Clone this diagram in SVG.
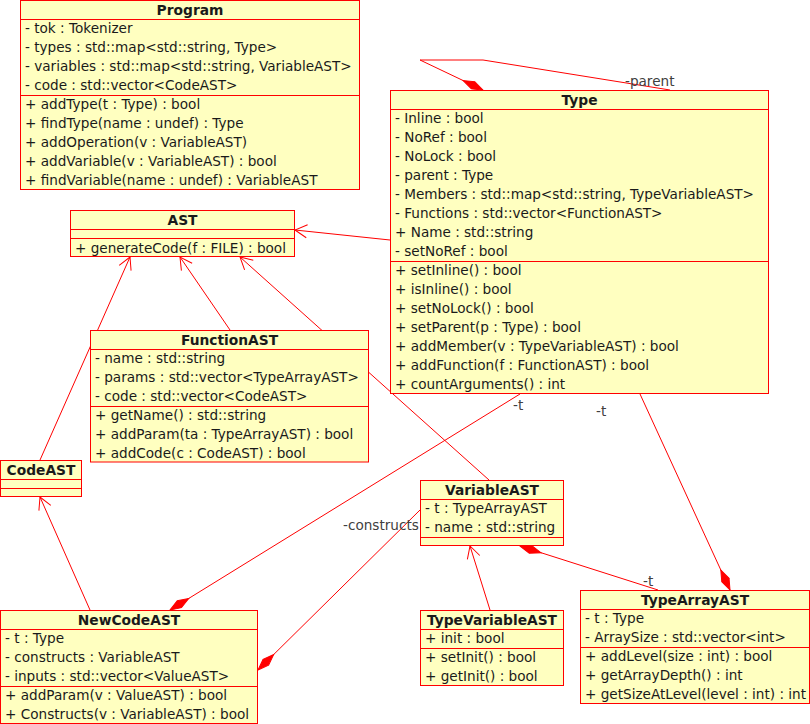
<svg xmlns="http://www.w3.org/2000/svg" width="810" height="724" viewBox="0 0 810 724">
<style>
.box{fill:#ffffc0;stroke:#ff0000;stroke-width:1}
.sep{stroke:#ff0000;stroke-width:1;fill:none}
.t{font-family:"DejaVu Sans","Liberation Sans",sans-serif;font-size:13.6px;fill:#1a1a1a}
.h{font-family:"DejaVu Sans","Liberation Sans",sans-serif;font-size:13.8px;font-weight:bold;fill:#1a1a1a;text-anchor:middle}
.lbl{font-family:"DejaVu Sans","Liberation Sans",sans-serif;font-size:13.6px;fill:#404040}
.c{stroke:#ff0000;stroke-width:1;fill:none}
.gen{marker-end:url(#open)}
.comp{marker-end:url(#dia)}
</style>
<defs>
<marker id="open" markerUnits="userSpaceOnUse" orient="auto" refX="0" refY="0" markerWidth="30" markerHeight="30" overflow="visible">
<path d="M-12,-6.5 L0,0 L-12,6.5" fill="none" stroke="#ff0000" stroke-width="1"/>
</marker>
<marker id="dia" markerUnits="userSpaceOnUse" orient="auto" refX="0" refY="0" markerWidth="30" markerHeight="30" overflow="visible">
<path d="M0,0 L-11,-4 L-22,0 L-11,4 Z" fill="#ff0000" stroke="#ff0000" stroke-width="1"/>
</marker>
</defs>

<g id="connectors">
<path class="c comp" d="M670,90 L483,60 L420,60 L483,90"/>
<line class="c gen" x1="390" y1="240" x2="295" y2="230"/>
<line class="c gen" x1="40" y1="460" x2="130" y2="257"/>
<line class="c gen" x1="230" y1="330" x2="180" y2="257"/>
<line class="c gen" x1="489" y1="480" x2="240" y2="257"/>
<line class="c gen" x1="90" y1="610" x2="40" y2="497"/>
<line class="c gen" x1="490" y1="610" x2="470" y2="546"/>
<line class="c comp" x1="520" y1="394" x2="170" y2="610"/>
<line class="c comp" x1="420" y1="510" x2="258" y2="670"/>
<line class="c comp" x1="640" y1="394" x2="730" y2="590"/>
<line class="c comp" x1="658" y1="590" x2="520" y2="546"/>
<text class="lbl" x="625" y="86">-parent</text>
<text class="lbl" x="513" y="410">-t</text>
<text class="lbl" x="596" y="416">-t</text>
<text class="lbl" x="643" y="586">-t</text>
<text class="lbl" x="343" y="530">-constructs</text>
</g>

<g id="Program">
<rect class="box" x="20.5" y="0.5" width="339" height="189"/>
<line class="sep" x1="20.5" y1="19.5" x2="359.5" y2="19.5"/>
<line class="sep" x1="20.5" y1="95.5" x2="359.5" y2="95.5"/>
<text class="h" x="190" y="14.5">Program</text>
<text class="t" x="25" y="33">- tok : Tokenizer</text>
<text class="t" x="25" y="52">- types : std::map&lt;std::string, Type&gt;</text>
<text class="t" x="25" y="71">- variables : std::map&lt;std::string, VariableAST&gt;</text>
<text class="t" x="25" y="90">- code : std::vector&lt;CodeAST&gt;</text>
<text class="t" x="25" y="109">+ addType(t : Type) : bool</text>
<text class="t" x="25" y="128">+ findType(name : undef) : Type</text>
<text class="t" x="25" y="147">+ addOperation(v : VariableAST)</text>
<text class="t" x="25" y="166">+ addVariable(v : VariableAST) : bool</text>
<text class="t" x="25" y="185">+ findVariable(name : undef) : VariableAST</text>
</g>

<g id="Type">
<rect class="box" x="390.5" y="90.5" width="378" height="303"/>
<line class="sep" x1="390.5" y1="109.5" x2="768.5" y2="109.5"/>
<line class="sep" x1="390.5" y1="261.5" x2="768.5" y2="261.5"/>
<text class="h" x="579.5" y="104.5">Type</text>
<text class="t" x="395" y="123">- Inline : bool</text>
<text class="t" x="395" y="142">- NoRef : bool</text>
<text class="t" x="395" y="161">- NoLock : bool</text>
<text class="t" x="395" y="180">- parent : Type</text>
<text class="t" x="395" y="199">- Members : std::map&lt;std::string, TypeVariableAST&gt;</text>
<text class="t" x="395" y="218">- Functions : std::vector&lt;FunctionAST&gt;</text>
<text class="t" x="395" y="237">+ Name : std::string</text>
<text class="t" x="395" y="256">- setNoRef : bool</text>
<text class="t" x="395" y="275">+ setInline() : bool</text>
<text class="t" x="395" y="294">+ isInline() : bool</text>
<text class="t" x="395" y="313">+ setNoLock() : bool</text>
<text class="t" x="395" y="332">+ setParent(p : Type) : bool</text>
<text class="t" x="395" y="351">+ addMember(v : TypeVariableAST) : bool</text>
<text class="t" x="395" y="370">+ addFunction(f : FunctionAST) : bool</text>
<text class="t" x="395" y="389">+ countArguments() : int</text>
</g>

<g id="AST">
<rect class="box" x="70.5" y="210.5" width="224" height="46"/>
<line class="sep" x1="70.5" y1="229.5" x2="294.5" y2="229.5"/>
<line class="sep" x1="70.5" y1="238.5" x2="294.5" y2="238.5"/>
<text class="h" x="182.5" y="225">AST</text>
<text class="t" x="75" y="252.5">+ generateCode(f : FILE) : bool</text>
</g>

<g id="FunctionAST">
<rect class="box" x="90.5" y="330.5" width="278" height="131.5"/>
<line class="sep" x1="90.5" y1="349.5" x2="368.5" y2="349.5"/>
<line class="sep" x1="90.5" y1="406.5" x2="368.5" y2="406.5"/>
<text class="h" x="229.5" y="345">FunctionAST</text>
<text class="t" x="95" y="363">- name : std::string</text>
<text class="t" x="95" y="382">- params : std::vector&lt;TypeArrayAST&gt;</text>
<text class="t" x="95" y="401">- code : std::vector&lt;CodeAST&gt;</text>
<text class="t" x="95" y="420">+ getName() : std::string</text>
<text class="t" x="95" y="439">+ addParam(ta : TypeArrayAST) : bool</text>
<text class="t" x="95" y="458">+ addCode(c : CodeAST) : bool</text>
</g>

<g id="CodeAST">
<rect class="box" x="0.5" y="460.5" width="81" height="36"/>
<line class="sep" x1="0.5" y1="479.5" x2="81.5" y2="479.5"/>
<line class="sep" x1="0.5" y1="488.5" x2="81.5" y2="488.5"/>
<text class="h" x="41" y="475">CodeAST</text>
</g>

<g id="NewCodeAST">
<rect class="box" x="0.5" y="610.5" width="257" height="113"/>
<line class="sep" x1="0.5" y1="629.5" x2="257.5" y2="629.5"/>
<line class="sep" x1="0.5" y1="686.5" x2="257.5" y2="686.5"/>
<text class="h" x="129" y="625">NewCodeAST</text>
<text class="t" x="5" y="643">- t : Type</text>
<text class="t" x="5" y="662">- constructs : VariableAST</text>
<text class="t" x="5" y="681">- inputs : std::vector&lt;ValueAST&gt;</text>
<text class="t" x="5" y="700">+ addParam(v : ValueAST) : bool</text>
<text class="t" x="5" y="719">+ Constructs(v : VariableAST) : bool</text>
</g>

<g id="VariableAST">
<rect class="box" x="420.5" y="480.5" width="143" height="65"/>
<line class="sep" x1="420.5" y1="499.5" x2="563.5" y2="499.5"/>
<line class="sep" x1="420.5" y1="537.5" x2="563.5" y2="537.5"/>
<text class="h" x="492" y="495">VariableAST</text>
<text class="t" x="425" y="513">- t : TypeArrayAST</text>
<text class="t" x="425" y="532">- name : std::string</text>
</g>

<g id="TypeVariableAST">
<rect class="box" x="420.5" y="610.5" width="143" height="75"/>
<line class="sep" x1="420.5" y1="629.5" x2="563.5" y2="629.5"/>
<line class="sep" x1="420.5" y1="648.5" x2="563.5" y2="648.5"/>
<text class="h" x="492" y="625">TypeVariableAST</text>
<text class="t" x="425" y="643">+ init : bool</text>
<text class="t" x="425" y="662">+ setInit() : bool</text>
<text class="t" x="425" y="681">+ getInit() : bool</text>
</g>

<g id="TypeArrayAST">
<rect class="box" x="580.5" y="590.5" width="229" height="113"/>
<line class="sep" x1="580.5" y1="609.5" x2="809.5" y2="609.5"/>
<line class="sep" x1="580.5" y1="647.5" x2="809.5" y2="647.5"/>
<text class="h" x="695" y="605">TypeArrayAST</text>
<text class="t" x="585" y="623">- t : Type</text>
<text class="t" x="585" y="642">- ArraySize : std::vector&lt;int&gt;</text>
<text class="t" x="585" y="661">+ addLevel(size : int) : bool</text>
<text class="t" x="585" y="680">+ getArrayDepth() : int</text>
<text class="t" x="585" y="699">+ getSizeAtLevel(level : int) : int</text>
</g>
</svg>
